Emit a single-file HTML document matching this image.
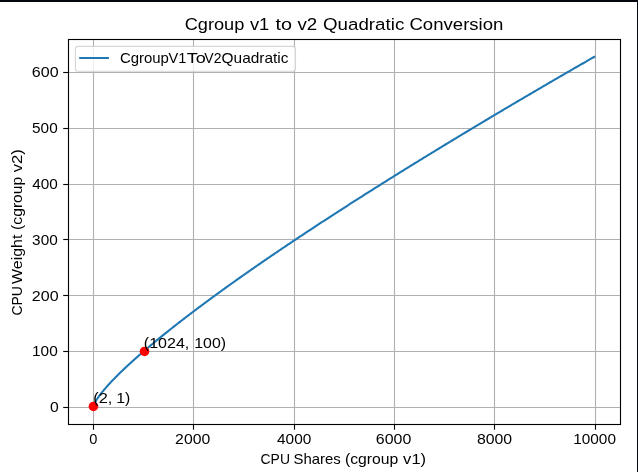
<!DOCTYPE html>
<html><head><meta charset="utf-8"><title>Cgroup v1 to v2 Quadratic Conversion</title>
<style>
html,body{margin:0;padding:0;background:#fff;}
body{width:638px;height:472px;overflow:hidden;font-family:"Liberation Sans",sans-serif;}
svg{display:block;will-change:transform;}
text{font-family:"Liberation Sans",sans-serif;fill:#000;white-space:pre;}
</style></head><body>
<svg width="638" height="472" viewBox="0 0 638 472">
<rect x="0" y="0" width="638" height="472" fill="#ffffff"/>

<g stroke="#b0b0b0" stroke-width="1.11" fill="none">
<line x1="93.5" y1="39.5" x2="93.5" y2="424.5"/>
<line x1="193.5" y1="39.5" x2="193.5" y2="424.5"/>
<line x1="294.5" y1="39.5" x2="294.5" y2="424.5"/>
<line x1="394.5" y1="39.5" x2="394.5" y2="424.5"/>
<line x1="494.5" y1="39.5" x2="494.5" y2="424.5"/>
<line x1="595.5" y1="39.5" x2="595.5" y2="424.5"/>
<line x1="68.5" y1="407.5" x2="620.5" y2="407.5"/>
<line x1="68.5" y1="351.5" x2="620.5" y2="351.5"/>
<line x1="68.5" y1="295.5" x2="620.5" y2="295.5"/>
<line x1="68.5" y1="239.5" x2="620.5" y2="239.5"/>
<line x1="68.5" y1="184.5" x2="620.5" y2="184.5"/>
<line x1="68.5" y1="128.5" x2="620.5" y2="128.5"/>
<line x1="68.5" y1="72.5" x2="620.5" y2="72.5"/>
</g>
<path d="M93.70,405.56 L93.70,405.56 L93.71,405.54 L93.71,405.51 L93.72,405.48 L93.74,405.43 L93.75,405.38 L93.77,405.32 L93.79,405.25 L93.81,405.18 L93.84,405.10 L93.87,405.01 L93.90,404.92 L93.94,404.82 L93.97,404.72 L94.01,404.61 L94.06,404.50 L94.10,404.39 L94.15,404.27 L94.20,404.15 L94.26,404.02 L94.31,403.89 L94.37,403.76 L94.44,403.62 L94.50,403.48 L94.57,403.34 L94.64,403.20 L94.71,403.05 L94.79,402.89 L94.87,402.74 L94.95,402.58 L95.04,402.42 L95.12,402.26 L95.21,402.09 L95.31,401.92 L95.40,401.75 L95.50,401.57 L95.60,401.40 L95.71,401.22 L95.82,401.03 L95.93,400.85 L96.04,400.66 L96.15,400.47 L96.27,400.28 L96.39,400.08 L96.52,399.89 L96.64,399.69 L96.77,399.49 L96.90,399.28 L97.04,399.07 L97.18,398.87 L97.32,398.65 L97.46,398.44 L97.61,398.22 L97.76,398.01 L97.91,397.79 L98.06,397.56 L98.22,397.34 L98.38,397.11 L98.54,396.88 L98.71,396.65 L98.87,396.42 L99.05,396.18 L99.22,395.94 L99.40,395.70 L99.58,395.46 L99.76,395.22 L99.94,394.97 L100.13,394.73 L100.32,394.48 L100.51,394.22 L100.71,393.97 L100.91,393.71 L101.11,393.45 L101.31,393.19 L101.52,392.93 L101.73,392.67 L101.94,392.40 L102.16,392.13 L102.38,391.86 L102.60,391.59 L102.82,391.32 L103.05,391.04 L103.28,390.76 L103.51,390.49 L103.75,390.20 L103.98,389.92 L104.23,389.63 L104.47,389.35 L104.71,389.06 L104.96,388.77 L105.22,388.48 L105.47,388.18 L105.73,387.88 L105.99,387.59 L106.25,387.29 L106.52,386.98 L106.78,386.68 L107.06,386.37 L107.33,386.07 L107.61,385.76 L107.89,385.45 L108.17,385.13 L108.45,384.82 L108.74,384.50 L109.03,384.19 L109.32,383.87 L109.62,383.54 L109.92,383.22 L110.22,382.90 L110.53,382.57 L110.83,382.24 L111.14,381.91 L111.46,381.58 L111.77,381.25 L112.09,380.91 L112.41,380.57 L112.74,380.23 L113.06,379.89 L113.39,379.55 L113.72,379.21 L114.06,378.86 L114.40,378.52 L114.74,378.17 L115.08,377.82 L115.43,377.46 L115.78,377.11 L116.13,376.75 L116.48,376.40 L116.84,376.04 L117.20,375.68 L117.56,375.31 L117.93,374.95 L118.30,374.59 L118.67,374.22 L119.04,373.85 L119.42,373.48 L119.80,373.11 L120.18,372.73 L120.57,372.36 L120.96,371.98 L121.35,371.60 L121.74,371.22 L122.14,370.84 L122.53,370.46 L122.94,370.07 L123.34,369.69 L123.75,369.30 L124.16,368.91 L124.57,368.52 L124.99,368.13 L125.41,367.73 L125.83,367.33 L126.25,366.94 L126.68,366.54 L127.11,366.14 L127.54,365.74 L127.98,365.33 L128.41,364.93 L128.85,364.52 L129.30,364.11 L129.74,363.70 L130.19,363.29 L130.65,362.88 L131.10,362.46 L131.56,362.05 L132.02,361.63 L132.48,361.21 L132.95,360.79 L133.42,360.37 L133.89,359.94 L134.36,359.52 L134.84,359.09 L135.32,358.66 L135.80,358.23 L136.29,357.80 L136.77,357.37 L137.26,356.94 L137.76,356.50 L138.25,356.06 L138.75,355.62 L139.26,355.18 L139.76,354.74 L140.27,354.30 L140.78,353.85 L141.29,353.41 L141.81,352.96 L142.33,352.51 L142.85,352.06 L143.37,351.61 L143.90,351.15 L144.43,350.70 L144.96,350.24 L145.50,349.78 L146.03,349.33 L146.58,348.86 L147.12,348.40 L147.67,347.94 L148.22,347.47 L148.77,347.01 L149.32,346.54 L149.88,346.07 L150.44,345.60 L151.00,345.13 L151.57,344.65 L152.14,344.18 L152.71,343.70 L153.28,343.22 L153.86,342.74 L154.44,342.26 L155.02,341.78 L155.61,341.29 L156.20,340.81 L156.79,340.32 L157.38,339.83 L157.98,339.34 L158.58,338.85 L159.18,338.36 L159.78,337.87 L160.39,337.37 L161.00,336.87 L161.62,336.38 L162.23,335.88 L162.85,335.38 L163.47,334.87 L164.10,334.37 L164.72,333.86 L165.35,333.36 L165.99,332.85 L166.62,332.34 L167.26,331.83 L167.90,331.32 L168.55,330.80 L169.19,330.29 L169.84,329.77 L170.49,329.26 L171.15,328.74 L171.81,328.22 L172.47,327.69 L173.13,327.17 L173.80,326.65 L174.46,326.12 L175.14,325.59 L175.81,325.07 L176.49,324.54 L177.17,324.00 L177.85,323.47 L178.54,322.94 L179.22,322.40 L179.92,321.86 L180.61,321.33 L181.31,320.79 L182.01,320.25 L182.71,319.70 L183.41,319.16 L184.12,318.62 L184.83,318.07 L185.54,317.52 L186.26,316.97 L186.98,316.42 L187.70,315.87 L188.43,315.32 L189.15,314.76 L189.88,314.21 L190.62,313.65 L191.35,313.09 L192.09,312.53 L192.83,311.97 L193.57,311.41 L194.32,310.84 L195.07,310.28 L195.82,309.71 L196.58,309.14 L197.34,308.58 L198.10,308.01 L198.86,307.43 L199.63,306.86 L200.40,306.29 L201.17,305.71 L201.94,305.13 L202.72,304.55 L203.50,303.98 L204.28,303.39 L205.07,302.81 L205.86,302.23 L206.65,301.64 L207.44,301.06 L208.24,300.47 L209.04,299.88 L209.84,299.29 L210.65,298.70 L211.45,298.11 L212.26,297.51 L213.08,296.92 L213.89,296.32 L214.71,295.72 L215.53,295.12 L216.36,294.52 L217.19,293.92 L218.02,293.32 L218.85,292.71 L219.69,292.11 L220.52,291.50 L221.37,290.89 L222.21,290.28 L223.06,289.67 L223.91,289.06 L224.76,288.45 L225.61,287.83 L226.47,287.21 L227.33,286.60 L228.20,285.98 L229.06,285.36 L229.93,284.74 L230.80,284.11 L231.68,283.49 L232.55,282.87 L233.43,282.24 L234.32,281.61 L235.20,280.98 L236.09,280.35 L236.98,279.72 L237.88,279.09 L238.77,278.45 L239.67,277.82 L240.58,277.18 L241.48,276.55 L242.39,275.91 L243.30,275.27 L244.21,274.62 L245.13,273.98 L246.05,273.34 L246.97,272.69 L247.90,272.05 L248.82,271.40 L249.75,270.75 L250.69,270.10 L251.62,269.45 L252.56,268.79 L253.50,268.14 L254.45,267.48 L255.39,266.83 L256.34,266.17 L257.30,265.51 L258.25,264.85 L259.21,264.19 L260.17,263.53 L261.13,262.86 L262.10,262.20 L263.07,261.53 L264.04,260.86 L265.02,260.19 L265.99,259.52 L266.97,258.85 L267.96,258.18 L268.94,257.50 L269.93,256.83 L270.92,256.15 L271.92,255.47 L272.92,254.79 L273.92,254.11 L274.92,253.43 L275.92,252.75 L276.93,252.07 L277.94,251.38 L278.96,250.69 L279.97,250.01 L280.99,249.32 L282.01,248.63 L283.04,247.94 L284.07,247.24 L285.10,246.55 L286.13,245.86 L287.17,245.16 L288.20,244.46 L289.25,243.76 L290.29,243.06 L291.34,242.36 L292.39,241.66 L293.44,240.96 L294.50,240.25 L295.55,239.55 L296.61,238.84 L297.68,238.13 L298.74,237.42 L299.81,236.71 L300.89,236.00 L301.96,235.28 L303.04,234.57 L304.12,233.85 L305.20,233.14 L306.29,232.42 L307.38,231.70 L308.47,230.98 L309.56,230.26 L310.66,229.53 L311.76,228.81 L312.86,228.08 L313.97,227.36 L315.08,226.63 L316.19,225.90 L317.30,225.17 L318.42,224.44 L319.54,223.71 L320.66,222.97 L321.78,222.24 L322.91,221.50 L324.04,220.76 L325.18,220.03 L326.31,219.29 L327.45,218.54 L328.59,217.80 L329.74,217.06 L330.88,216.31 L332.03,215.57 L333.19,214.82 L334.34,214.07 L335.50,213.32 L336.66,212.57 L337.83,211.82 L338.99,211.07 L340.16,210.32 L341.33,209.56 L342.51,208.80 L343.69,208.05 L344.87,207.29 L346.05,206.53 L347.24,205.77 L348.43,205.00 L349.62,204.24 L350.81,203.48 L352.01,202.71 L353.21,201.94 L354.41,201.17 L355.62,200.41 L356.83,199.63 L358.04,198.86 L359.25,198.09 L360.47,197.32 L361.69,196.54 L362.91,195.76 L364.14,194.99 L365.36,194.21 L366.59,193.43 L367.83,192.65 L369.06,191.86 L370.30,191.08 L371.54,190.30 L372.79,189.51 L374.04,188.72 L375.29,187.93 L376.54,187.14 L377.79,186.35 L379.05,185.56 L380.31,184.77 L381.58,183.98 L382.85,183.18 L384.11,182.38 L385.39,181.59 L386.66,180.79 L387.94,179.99 L389.22,179.19 L390.50,178.38 L391.79,177.58 L393.08,176.78 L394.37,175.97 L395.67,175.16 L396.96,174.36 L398.26,173.55 L399.57,172.74 L400.87,171.93 L402.18,171.11 L403.49,170.30 L404.81,169.48 L406.12,168.67 L407.44,167.85 L408.76,167.03 L410.09,166.21 L411.42,165.39 L412.75,164.57 L414.08,163.75 L415.42,162.92 L416.76,162.10 L418.10,161.27 L419.44,160.44 L420.79,159.62 L422.14,158.79 L423.49,157.96 L424.85,157.12 L426.21,156.29 L427.57,155.46 L428.93,154.62 L430.30,153.78 L431.67,152.95 L433.04,152.11 L434.42,151.27 L435.80,150.42 L437.18,149.58 L438.56,148.74 L439.95,147.89 L441.34,147.05 L442.73,146.20 L444.12,145.35 L445.52,144.50 L446.92,143.65 L448.32,142.80 L449.73,141.95 L451.14,141.10 L452.55,140.24 L453.96,139.38 L455.38,138.53 L456.80,137.67 L458.22,136.81 L459.65,135.95 L461.08,135.09 L462.51,134.22 L463.94,133.36 L465.38,132.49 L466.82,131.63 L468.26,130.76 L469.70,129.89 L471.15,129.02 L472.60,128.15 L474.06,127.28 L475.51,126.41 L476.97,125.53 L478.43,124.66 L479.90,123.78 L481.36,122.90 L482.83,122.03 L484.30,121.15 L485.78,120.26 L487.26,119.38 L488.74,118.50 L490.22,117.62 L491.71,116.73 L493.20,115.84 L494.69,114.96 L496.19,114.07 L497.68,113.18 L499.18,112.29 L500.69,111.39 L502.19,110.50 L503.70,109.61 L505.21,108.71 L506.73,107.81 L508.24,106.92 L509.76,106.02 L511.29,105.12 L512.81,104.22 L514.34,103.32 L515.87,102.41 L517.41,101.51 L518.94,100.60 L520.48,99.70 L522.02,98.79 L523.57,97.88 L525.12,96.97 L526.67,96.06 L528.22,95.15 L529.78,94.23 L531.33,93.32 L532.90,92.40 L534.46,91.49 L536.03,90.57 L537.60,89.65 L539.17,88.73 L540.75,87.81 L542.32,86.89 L543.91,85.96 L545.49,85.04 L547.08,84.11 L548.66,83.19 L550.26,82.26 L551.85,81.33 L553.45,80.40 L555.05,79.47 L556.65,78.54 L558.26,77.61 L559.87,76.67 L561.48,75.74 L563.09,74.80 L564.71,73.86 L566.33,72.92 L567.95,71.98 L569.58,71.04 L571.21,70.10 L572.84,69.16 L574.47,68.21 L576.11,67.27 L577.75,66.32 L579.39,65.37 L581.04,64.43 L582.68,63.48 L584.34,62.53 L585.99,61.57 L587.64,60.62 L589.30,59.67 L590.97,58.71 L592.63,57.76 L594.30,56.80" fill="none" stroke="#1f77b4" stroke-width="2.08" stroke-linejoin="round" stroke-linecap="square"/>
<circle cx="93.45" cy="406.45" r="4.8" fill="#ff0000"/>
<circle cx="144.55" cy="351.45" r="4.8" fill="#ff0000"/>
<rect x="68.5" y="39.5" width="552.0" height="385.0" fill="none" stroke="#000" stroke-width="1.11"/>
<g stroke="#000" stroke-width="1.11">
<line x1="93.5" y1="424.5" x2="93.5" y2="429.7"/>
<line x1="193.5" y1="424.5" x2="193.5" y2="429.7"/>
<line x1="294.5" y1="424.5" x2="294.5" y2="429.7"/>
<line x1="394.5" y1="424.5" x2="394.5" y2="429.7"/>
<line x1="494.5" y1="424.5" x2="494.5" y2="429.7"/>
<line x1="595.5" y1="424.5" x2="595.5" y2="429.7"/>
<line x1="68.5" y1="407.5" x2="63.2" y2="407.5"/>
<line x1="68.5" y1="351.5" x2="63.2" y2="351.5"/>
<line x1="68.5" y1="295.5" x2="63.2" y2="295.5"/>
<line x1="68.5" y1="239.5" x2="63.2" y2="239.5"/>
<line x1="68.5" y1="184.5" x2="63.2" y2="184.5"/>
<line x1="68.5" y1="128.5" x2="63.2" y2="128.5"/>
<line x1="68.5" y1="72.5" x2="63.2" y2="72.5"/>
</g>
<rect x="75.4" y="46.4" width="220.1" height="24.9" rx="2.8" ry="2.8" fill="#ffffff" fill-opacity="0.8" stroke="#cccccc" stroke-opacity="0.8" stroke-width="1.11"/>
<line x1="80.2" y1="58" x2="107.9" y2="58" stroke="#1f77b4" stroke-width="2.02" stroke-linecap="square"/>
<text x="184.68" y="30.4" font-size="16.9" textLength="59.69" lengthAdjust="spacingAndGlyphs">Cgroup</text>
<text x="249.94" y="30.4" font-size="16.9" textLength="19.36" lengthAdjust="spacingAndGlyphs">v1</text>
<text x="275.60" y="30.4" font-size="16.9" textLength="16.53" lengthAdjust="spacingAndGlyphs">to</text>
<text x="297.44" y="30.4" font-size="16.9" textLength="19.81" lengthAdjust="spacingAndGlyphs">v2</text>
<text x="323.01" y="30.4" font-size="16.9" textLength="81.28" lengthAdjust="spacingAndGlyphs">Quadratic</text>
<text x="409.46" y="30.4" font-size="16.9" textLength="93.95" lengthAdjust="spacingAndGlyphs">Conversion</text>
<text x="119.94" y="62.5" font-size="14.1" textLength="48.99" lengthAdjust="spacingAndGlyphs">Cgroup</text>
<text x="168.54" y="62.5" font-size="14.1" textLength="17.88" lengthAdjust="spacingAndGlyphs">V1</text>
<text x="186.79" y="62.5" font-size="14.1" textLength="19.06" lengthAdjust="spacingAndGlyphs">To</text>
<text x="204.34" y="62.5" font-size="14.1" textLength="17.17" lengthAdjust="spacingAndGlyphs">V2</text>
<text x="221.57" y="62.5" font-size="14.1" textLength="66.94" lengthAdjust="spacingAndGlyphs">Quadratic</text>
<text x="260.59" y="463.6" font-size="14.1" textLength="29.38" lengthAdjust="spacingAndGlyphs">CPU</text>
<text x="293.52" y="463.6" font-size="14.1" textLength="47.32" lengthAdjust="spacingAndGlyphs">Shares</text>
<text x="344.92" y="463.6" font-size="14.1" textLength="53.34" lengthAdjust="spacingAndGlyphs">(cgroup</text>
<text x="403.14" y="463.6" font-size="14.1" textLength="22.98" lengthAdjust="spacingAndGlyphs">v1)</text>
<text x="89.33" y="443.9" font-size="14.1" textLength="8.14" lengthAdjust="spacingAndGlyphs">0</text>
<text x="175.11" y="443.9" font-size="14.1" textLength="35.11" lengthAdjust="spacingAndGlyphs">2000</text>
<text x="277.05" y="443.9" font-size="14.1" textLength="34.26" lengthAdjust="spacingAndGlyphs">4000</text>
<text x="375.89" y="443.9" font-size="14.1" textLength="35.43" lengthAdjust="spacingAndGlyphs">6000</text>
<text x="476.91" y="443.9" font-size="14.1" textLength="35.21" lengthAdjust="spacingAndGlyphs">8000</text>
<text x="573.23" y="443.9" font-size="14.1" textLength="42.77" lengthAdjust="spacingAndGlyphs">10000</text>
<text x="31.89" y="77.0" font-size="14.1" textLength="26.74" lengthAdjust="spacingAndGlyphs">600</text>
<text x="32.09" y="133.0" font-size="14.1" textLength="25.61" lengthAdjust="spacingAndGlyphs">500</text>
<text x="32.15" y="189.0" font-size="14.1" textLength="25.55" lengthAdjust="spacingAndGlyphs">400</text>
<text x="32.12" y="245.0" font-size="14.1" textLength="25.58" lengthAdjust="spacingAndGlyphs">300</text>
<text x="31.89" y="301.0" font-size="14.1" textLength="26.73" lengthAdjust="spacingAndGlyphs">200</text>
<text x="32.03" y="356.0" font-size="14.1" textLength="25.67" lengthAdjust="spacingAndGlyphs">100</text>
<text x="50.09" y="412.0" font-size="14.1" textLength="8.73" lengthAdjust="spacingAndGlyphs">0</text>
<text x="93.19" y="402.6" font-size="14.1" textLength="19.08" lengthAdjust="spacingAndGlyphs">(2,</text>
<text x="116.19" y="402.6" font-size="14.1" textLength="14.09" lengthAdjust="spacingAndGlyphs">1)</text>
<text x="143.80" y="347.7" font-size="14.1" textLength="45.54" lengthAdjust="spacingAndGlyphs">(1024,</text>
<text x="194.29" y="347.7" font-size="14.1" textLength="31.80" lengthAdjust="spacingAndGlyphs">100)</text>
<text transform="translate(22.1,314.9) rotate(-90)" x="-0.71" y="0" font-size="14.1" textLength="29.49" lengthAdjust="spacingAndGlyphs">CPU</text>
<text transform="translate(22.1,314.9) rotate(-90)" x="31.03" y="0" font-size="14.1" textLength="49.19" lengthAdjust="spacingAndGlyphs">Weight</text>
<text transform="translate(22.1,314.9) rotate(-90)" x="85.03" y="0" font-size="14.1" textLength="53.13" lengthAdjust="spacingAndGlyphs">(cgroup</text>
<text transform="translate(22.1,314.9) rotate(-90)" x="142.54" y="0" font-size="14.1" textLength="23.09" lengthAdjust="spacingAndGlyphs">v2)</text>
<rect x="0" y="0" width="638" height="2" fill="#03050f"/>
<rect x="637" y="0" width="1" height="472" fill="#03050f"/>
</svg></body></html>
